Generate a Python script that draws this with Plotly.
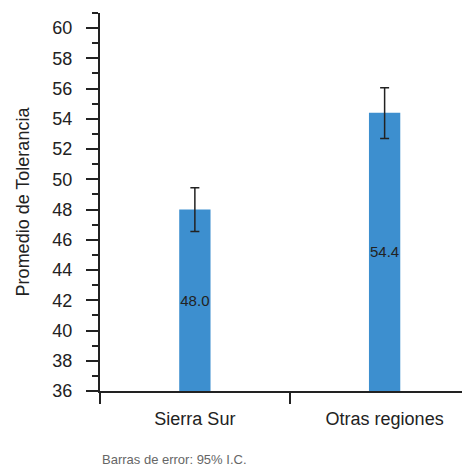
import plotly.graph_objects as go

# data
regiones = ["Sierra Sur", "Otras regiones"]
promedio = [48.0, 54.4]
ic_arriba = [1.45, 1.65]
ic_abajo = [1.45, 1.7]
etiquetas = ["48.0", "54.4"]
base_eje = 36  # bars start at the bottom of the y axis

fuente = "Liberation Sans, Arial"
eje = "#222222"

fig = go.Figure()
fig.add_trace(go.Bar(
    x=regiones,
    y=[v - base_eje for v in promedio],
    base=base_eje,
    width=0.165,
    marker=dict(color="#3d8fcf", line=dict(width=0)),
    text=etiquetas,
    texttemplate="%{text}",
    textposition="inside",
    insidetextanchor="middle",
    constraintext="none",
    textangle=0,
    textfont=dict(family=fuente, size=15, color="#222222"),
    error_y=dict(type="data", symmetric=False, array=ic_arriba, arrayminus=ic_abajo,
                 color=eje, thickness=1.5, width=4.5),
    hoverinfo="skip",
))

# the page body adds 8 px round the figure, so size and margins allow for it
fig.update_layout(
    width=462, height=460,
    margin=dict(l=92, r=0, t=5, b=77),
    paper_bgcolor="white",
    plot_bgcolor="white",
    showlegend=False,
    font=dict(family=fuente, size=18, color="#222222"),
)

fig.update_xaxes(
    type="category",
    range=[-0.5, 1.45],
    showline=True, linecolor=eje, linewidth=2,
    ticks="outside", tickson="boundaries", ticklen=11, tickwidth=1.5, tickcolor=eje,
    ticklabelstandoff=10,
    showgrid=False, zeroline=False,
    tickfont=dict(family=fuente, size=18, color="#222222"),
)

fig.update_yaxes(
    range=[36, 61],
    dtick=2, tick0=36,
    showline=True, linecolor=eje, linewidth=2,
    ticks="outside", ticklen=12, tickwidth=1.5, tickcolor=eje,
    minor=dict(ticks="outside", ticklen=6, dtick=1, tickwidth=1.5, tickcolor=eje, showgrid=False),
    ticklabelstandoff=10,
    showgrid=False, zeroline=False,
    tickfont=dict(family=fuente, size=18, color="#222222"),
    title=dict(text="Promedio de Tolerancia", standoff=18,
               font=dict(family=fuente, size=18, color="#222222")),
)

fig.add_annotation(
    text="Barras de error: 95% I.C.",
    xref="paper", yref="paper", x=0, y=-0.18,
    xanchor="left", yanchor="middle", showarrow=False,
    font=dict(family=fuente, size=13, color="#666666"),
)

fig.write_html("out.html")
